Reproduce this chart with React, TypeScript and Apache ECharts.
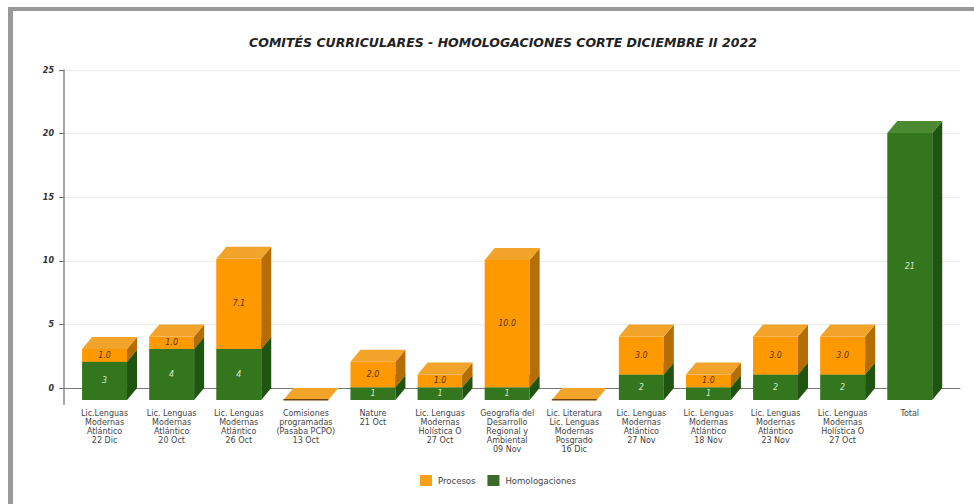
import React, { useEffect, useRef } from "react";
import * as echarts from "echarts";

const titleText = "COMITÉS CURRICULARES - HOMOLOGACIONES CORTE DICIEMBRE II 2022";
const categories = [
  "Lic.Lenguas\nModernas\nAtlántico\n22 Dic",
  "Lic. Lenguas\nModernas\nAtlántico\n20 Oct",
  "Lic. Lenguas\nModernas\nAtlántico\n26 Oct",
  "Comisiones\nprogramadas\n(Pasaba PCPO)\n13 Oct",
  "Nature\n21 Oct",
  "Lic. Lenguas\nModernas\nHolística O\n27 Oct",
  "Geografía del\nDesarrollo\nRegional y\nAmbiental\n09 Nov",
  "Lic. Literatura\nLic. Lenguas\nModernas\nPosgrado\n16 Dic",
  "Lic. Lenguas\nModernas\nAtlántico\n27 Nov",
  "Lic. Lenguas\nModernas\nAtlántico\n18 Nov",
  "Lic. Lenguas\nModernas\nAtlántico\n23 Nov",
  "Lic. Lenguas\nModernas\nHolística O\n27 Oct",
  "Total",
];
const homologaciones = [3, 4, 4, 0, 1, 1, 1, 0, 2, 1, 2, 2, 21];
const procesos = [1.0, 1.0, 7.1, 0, 2.0, 1.0, 10.0, 0, 3.0, 1.0, 3.0, 3.0, 0];

const FONT = "DejaVu Sans";
const DX = 10;
const DY = 12;

function makeRender(front: string, top: string, side: string, labelColor: string, decimals: number) {
  return (_params: any, api: any) => {
    const idx = api.value(0);
    const start = api.value(1);
    const end = api.value(2);
    const center = api.coord([idx, 0])[0];
    const w = api.size([1, 0])[0] * 0.67;
    const x0 = center - w / 2;
    const x1 = center + w / 2;
    const yA = api.coord([idx, start])[1] + DY;
    const yB = api.coord([idx, end])[1] + DY;
    const children: any[] = [];
    const isZero = end === start;
    // a zero-height bar only shows when nothing is below it, and only from the top series
    if (isZero && (start > 0 || decimals === 0)) return { type: "group", children };
    if (!isZero) {
      children.push({ type: "rect", shape: { x: x0, y: yB, width: w, height: yA - yB }, style: { fill: front } });
      children.push({
        type: "polygon",
        shape: { points: [[x1, yA], [x1 + DX, yA - DY], [x1 + DX, yB - DY], [x1, yB]] },
        style: { fill: side },
      });
    }
    children.push({
      type: "polygon",
      shape: { points: [[x0, yB], [x0 + DX, yB - DY], [x1 + DX, yB - DY], [x1, yB]] },
      style: { fill: top },
    });
    if (isZero) {
      children.push({ type: "rect", shape: { x: x0, y: yA - 1, width: w, height: 1.5 }, style: { fill: "#6b4210" } });
    } else {
      children.push({
        type: "text",
        style: {
          x: center,
          y: (yA + yB) / 2,
          text: (end - start).toFixed(decimals),
          fill: labelColor,
          font: `italic 8px "${FONT}"`,
          align: "center",
          verticalAlign: "middle",
        },
        z2: 10,
      });
    }
    return { type: "group", children };
  };
}

export default function App() {
  const ref = useRef<HTMLDivElement>(null);
  useEffect(() => {
    const chart = echarts.init(ref.current!, undefined, { renderer: "svg" });
    const greenData = homologaciones.map((v, i) => [i, 0, v]);
    const orangeData = procesos.map((v, i) => [i, homologaciones[i], homologaciones[i] + v]);
    chart.setOption({
      animation: false,
      backgroundColor: "#ffffff",
      title: {
        text: titleText,
        left: 498,
        top: 31,
        textAlign: "center",
        textStyle: { fontFamily: FONT, fontSize: 12.5, fontWeight: "bold", fontStyle: "italic", color: "#222222" },
      },
      legend: {
        left: 415,
        top: 470,
        itemWidth: 12,
        itemHeight: 11,
        itemGap: 12,
        icon: "rect",
        textStyle: { fontFamily: FONT, fontSize: 8.5, color: "#444444", padding: [0, 0, 0, 1] },
        data: ["Procesos", "Homologaciones"],
      },
      grid: [
        { left: 71, top: 70, width: 872.3, bottom: 116 },
        { left: 64, top: 70, width: 896, bottom: 116 },
      ],
      xAxis: [
        {
          type: "category",
          gridIndex: 0,
          data: categories,
          axisLine: { show: false },
          axisTick: { show: false },
          axisLabel: {
            interval: 0,
            margin: 21,
            fontFamily: FONT,
            fontSize: 8,
            lineHeight: 9,
            color: "#444444",
            verticalAlign: "top",
          },
        },
        {
          type: "value",
          gridIndex: 1,
          min: 0,
          max: 1,
          axisLine: { show: true, onZero: false, lineStyle: { color: "#777777", width: 1 } },
          axisTick: { show: false },
          axisLabel: { show: false },
          splitLine: { show: false },
        },
      ],
      yAxis: [
        {
          type: "value",
          gridIndex: 0,
          min: 0,
          max: 25,
          interval: 5,
          axisLine: { show: false },
          axisTick: { show: false },
          axisLabel: { show: false },
          splitLine: { show: false },
        },
        {
          type: "value",
          gridIndex: 1,
          min: 0,
          max: 25,
          interval: 5,
          axisLine: { show: true, lineStyle: { color: "#888888", width: 1.5 } },
          axisTick: { show: true, length: 5, lineStyle: { color: "#777777" } },
          axisLabel: { margin: 10, fontFamily: FONT, fontSize: 8, fontStyle: "italic", fontWeight: "bold", color: "#333333" },
          splitLine: { show: true, lineStyle: { color: "#ececec", width: 1 } },
        },
      ],
      graphic: [
        { type: "rect", shape: { x: 8, y: 7, width: 966, height: 4 }, style: { fill: "#999999" } },
        { type: "rect", shape: { x: 8, y: 7, width: 5, height: 497 }, style: { fill: "#999999" } },
        { type: "line", shape: { x1: 64, y1: 388, x2: 64, y2: 405 }, style: { stroke: "#888888", lineWidth: 1.5 } },
      ],
      series: [
        {
          name: "Procesos",
          type: "custom",
          xAxisIndex: 0,
          yAxisIndex: 0,
          z: 3,
          itemStyle: { color: "#F7A11B" },
          renderItem: makeRender("#FF9900", "#F2A32A", "#B56D05", "#5a3300", 1),
          encode: { x: 0, y: 2 },
          data: orangeData,
        },
        {
          name: "Homologaciones",
          type: "custom",
          xAxisIndex: 0,
          yAxisIndex: 0,
          z: 2,
          itemStyle: { color: "#3A6B2A" },
          renderItem: makeRender("#33761D", "#4B8A30", "#1F5510", "#cfe6c5", 0),
          encode: { x: 0, y: 2 },
          data: greenData,
        },
      ],
    });
    return () => chart.dispose();
  }, []);
  return <div ref={ref} style={{ position: "absolute", left: 0, top: 0, width: 974, height: 504 }} />;
}
